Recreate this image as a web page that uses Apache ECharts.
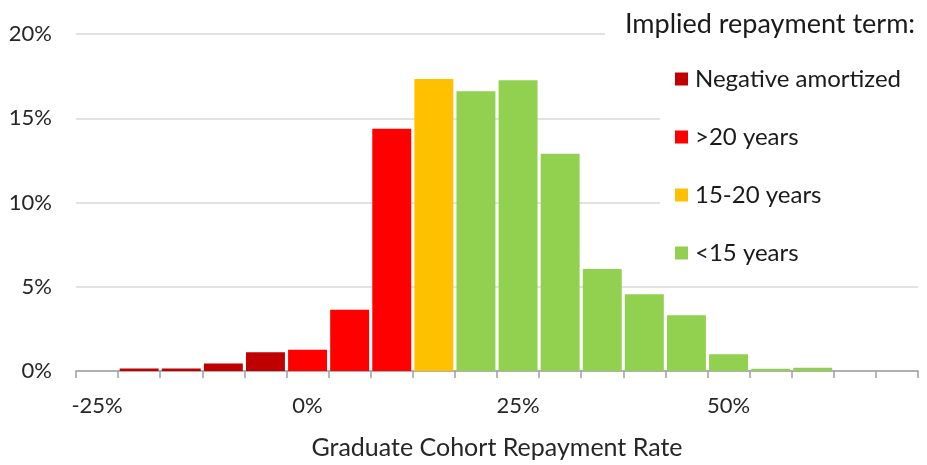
<!DOCTYPE html>
<html>
<head>
<meta charset="utf-8">
<script src="https://cdn.jsdelivr.net/npm/echarts@6/dist/echarts.min.js"></script>
<style>
  html, body { margin: 0; padding: 0; background: #fff; }
  #chart { width: 927px; height: 465px; }
</style>
</head>
<body>
<div id="chart"></div>
<script>
// repayment-rate bins (%), centre of each 5-point bin
const bins = [-25, -20, -15, -10, -5, 0, 5, 10, 15, 20, 25, 30, 35, 40, 45, 50, 55, 60, 65, 70]
// share of cohorts in each bin (%)
const shares = [0, 0.15, 0.15, 0.45, 1.12, 1.26, 3.64, 14.38, 17.33, 16.6, 17.26, 12.9, 6.05, 4.56, 3.31, 1.0, 0.13, 0.2, 0, 0]
// implied repayment term group of each bin (index into terms)
const binTerm = [0, 0, 0, 0, 0, 1, 1, 1, 2, 3, 3, 3, 3, 3, 3, 3, 3, 3, 3, 3]
const terms = ['Negative amortized', '>20 years', '15-20 years', '<15 years']
const termColors = ['#C00000', '#FF0000', '#FFC000', '#92D050']
const yTicks = [0, 5, 10, 15, 20]

const FONT = 'Lato'
const chart = echarts.init(document.getElementById('chart'))

const series = terms.map((t, k) => ({
  name: t,
  type: 'bar',
  stack: 'hist',
  barCategoryGap: '7.5%',
  itemStyle: { color: termColors[k] },
  data: shares.map((v, i) => (binTerm[i] === k && v > 0 ? v : '-'))
}))

chart.setOption({
  backgroundColor: '#fff',
  animation: false,
  textStyle: { fontFamily: FONT },
  grid: { left: 76, top: 34, width: 842, height: 346, containLabel: false },
  xAxis: {
    type: 'category',
    data: bins,
    boundaryGap: true,
    name: 'Graduate Cohort Repayment Rate',
    nameLocation: 'middle',
    nameGap: 64,
    nameTextStyle: { fontFamily: FONT, fontSize: 25, color: '#262626' },
    axisLine: { lineStyle: { color: '#a0a0a0', width: 1.5 } },
    axisTick: { show: true, interval: 0, length: 7, lineStyle: { color: '#a0a0a0', width: 1.5 } },
    axisLabel: {
      interval: 4, margin: 24, fontFamily: FONT, fontSize: 22, color: '#262626',
      formatter: (v) => v + '%'
    },
    splitLine: { show: false }
  },
  yAxis: {
    type: 'value',
    min: yTicks[0], max: yTicks[yTicks.length - 1], interval: 5,
    axisLine: { show: false },
    axisTick: { show: false },
    axisLabel: { margin: 24, fontFamily: FONT, fontSize: 22, color: '#262626', formatter: '{value}%' },
    splitLine: { lineStyle: { color: '#d9d9d9', width: 1.5 } }
  },
  title: {
    text: 'Implied repayment term:',
    left: 605, top: 0,
    padding: [11, 10, 11, 20],
    backgroundColor: '#fff',
    textStyle: { fontFamily: FONT, fontSize: 27, fontWeight: 'normal', color: '#1a1a1a' }
  },
  legend: {
    orient: 'vertical',
    left: 660, top: 52,
    padding: [15, 20, 14, 15],
    backgroundColor: '#fff',
    icon: 'rect',
    itemWidth: 13, itemHeight: 13,
    itemGap: 34,
    data: terms,
    textStyle: { fontFamily: FONT, fontSize: 24, color: '#1a1a1a', padding: [0, 0, 0, 2] }
  },
  series: series
})
</script>
</body>
</html>
